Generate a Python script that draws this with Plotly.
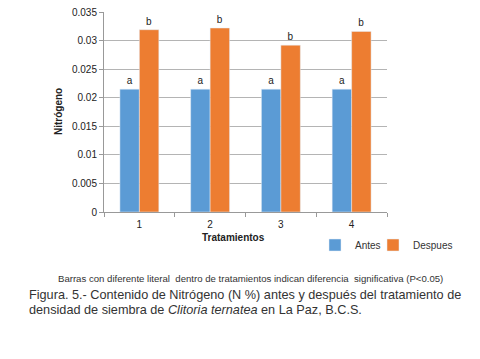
import plotly.graph_objects as go

categories = ["1", "2", "3", "4"]
antes = [0.0215, 0.0215, 0.0215, 0.0215]
despues = [0.0319, 0.0322, 0.0292, 0.0316]
antes_letters = ["a", "a", "a", "a"]
despues_letters = ["b", "b", "b", "b"]
y_ticks = [0, 0.005, 0.01, 0.015, 0.02, 0.025, 0.03, 0.035]

FONT = "Liberation Sans, Arial, sans-serif"
OFF = 8  # default body margin of the html page
W, H = 480 - OFF, 359 - OFF
L, R, T, B = 104 - OFF, 387 - OFF, 12 - OFF, 212 - OFF

def px_x(x):
    return (x - OFF - L) / (R - L)

def px_y(y):
    return (B - (y - OFF)) / (B - T)

fig = go.Figure()
fig.add_trace(go.Bar(x=categories, y=antes, name="Antes", marker_color="#5B9BD5",
                     text=antes_letters, textposition="outside", cliponaxis=False,
                     textfont=dict(size=10, color="#222"), legend="legend"))
fig.add_trace(go.Bar(x=categories, y=despues, name="Despues", marker_color="#ED7D31",
                     text=despues_letters, textposition="outside", cliponaxis=False,
                     textfont=dict(size=10, color="#222"), legend="legend2"))

leg_common = dict(orientation="h", xref="container", yref="container",
                  y=(359 - 245) / H, xanchor="left", yanchor="middle",
                  font=dict(size=10, color="#333"), itemwidth=30,
                  bgcolor="rgba(0,0,0,0)")

fig.update_layout(
    width=W, height=H,
    margin=dict(l=L, r=W - R, t=T, b=H - B, autoexpand=False),
    paper_bgcolor="white", plot_bgcolor="white",
    barmode="group", bargap=0.45, bargroupgap=0,
    font=dict(family=FONT, size=10, color="#222"),
    showlegend=True,
    legend=dict(x=(315 - OFF) / W, **leg_common),
    legend2=dict(x=(373 - OFF) / W, **leg_common),
    xaxis=dict(type="category", showline=True, linecolor="#999", ticks="outside",
               tickson="boundaries", ticklen=4, tickcolor="#999", automargin=False,
               ticklabelstandoff=3,
               tickfont=dict(size=10, color="#222"), showgrid=False),
    yaxis=dict(range=[0, 0.035], tickvals=y_ticks, showgrid=True, gridcolor="#b4b4b4",
               gridwidth=1, showline=True, linecolor="#999", ticks="outside", ticklen=4,
               tickcolor="#999", tickfont=dict(size=10, color="#222"), zeroline=False,
               automargin=False, ticklabeloverflow="allow"),
)

annotations = [
    dict(text="<b>Nitrógeno</b>", x=px_x(58), y=0.5, xref="paper", yref="paper",
         xanchor="center", yanchor="middle",
         textangle=-90, showarrow=False, font=dict(size=10, color="#222")),
    dict(text="<b>Tratamientos</b>", x=px_x(233), y=px_y(237), xref="paper", yref="paper",
         xanchor="center", yanchor="middle",
         showarrow=False, font=dict(size=10, color="#222")),
    dict(text="Barras con diferente literal  dentro de tratamientos indican diferencia  significativa (P<0.05)",
         x=px_x(250), y=px_y(278), xref="paper", yref="paper", showarrow=False,
         xanchor="center", yanchor="middle",
         font=dict(size=9.6, color="#333")),
    dict(text="Figura. 5.- Contenido de Nitrógeno (N %) antes y después del tratamiento de",
         x=px_x(27), y=px_y(295), xref="paper", yref="paper", xanchor="left", yanchor="middle",
         showarrow=False, font=dict(size=12.7, color="#333")),
    dict(text="densidad de siembra de <i>Clitoria ternatea</i> en La Paz, B.C.S.",
         x=px_x(27), y=px_y(310), xref="paper", yref="paper", xanchor="left", yanchor="middle",
         showarrow=False, font=dict(size=12.7, color="#333")),
]
fig.update_layout(annotations=annotations)

fig.write_html("out.html")
